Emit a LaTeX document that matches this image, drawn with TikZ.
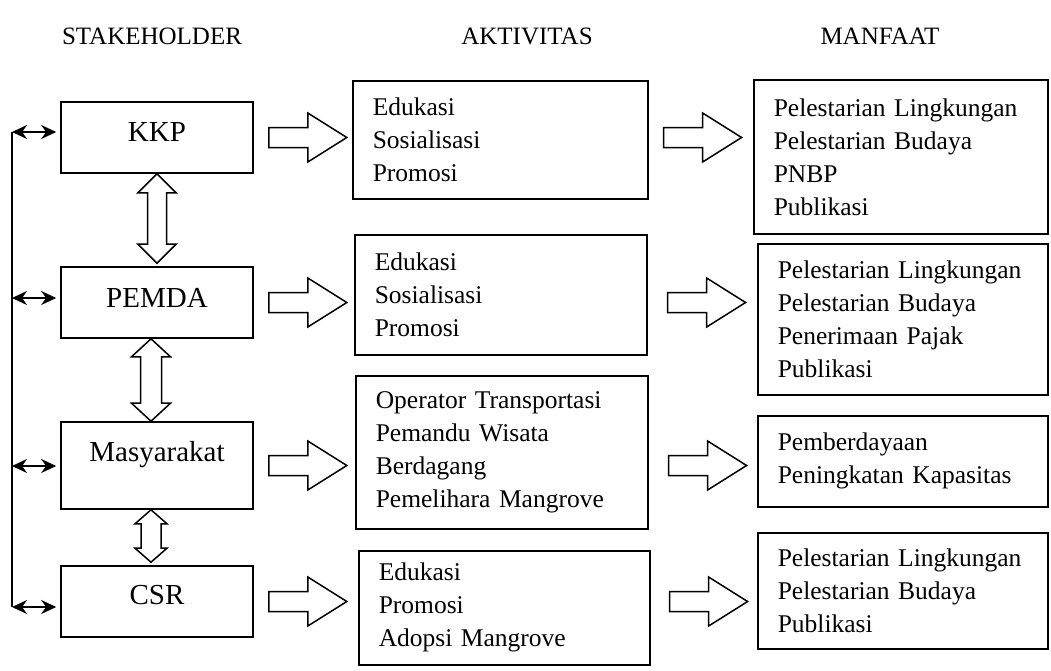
\documentclass[tikz,border=0pt]{standalone}
\usepackage{fontspec}
\setmainfont{Liberation Serif}
\usetikzlibrary{arrows.meta,calc}
\tikzset{>=Stealth}
\tikzset{%
    hd/.style={anchor=base, font=\fontsize{25}{30}\selectfont},
    sh/.style={draw, line width=1.6pt, minimum width=192pt, minimum height=71pt,
        text height=21pt, font=\fontsize{29}{34}\selectfont},
    lst/.style={draw, line width=1.6pt, anchor=north west, align=left,
        inner xsep=20pt, font=\fontsize{25.5}{33}\selectfont},
    blk/.style={draw, line width=1.5pt, line join=miter},
    ln/.style={line width=1.6pt},
    lr/.style={line width=1.6pt, {Stealth[length=15pt,width=14pt]}-{Stealth[length=15pt,width=14pt]}},
    rblock/.pic={\draw[blk] (0,-10) -- (39,-10) -- (39,-24.5) -- (78,0) -- (39,24.5) -- (39,10) -- (0,10) -- cycle;}
}
\newcommand{\dblblock}[5]{%
    \draw[blk] let \p1=(#1), \p2=(#2) in
        (\x1,\y1) -- (\x1+#3,\y1-#5) -- (\x1+#4,\y1-#5) -- (\x1+#4,\y2+#5) -- (\x1+#3,\y2+#5)
        -- (\x1,\y2) -- (\x1-#3,\y2+#5) -- (\x1-#4,\y2+#5) -- (\x1-#4,\y1-#5) -- (\x1-#3,\y1-#5) -- cycle;}

\begin{document}
\begin{tikzpicture}[x=1pt,y=-1pt]
\useasboundingbox (0,0) rectangle (1051,670);
% judul kolom
\node[hd] (hsh) at (152,44) {STAKEHOLDER};
\node[hd] (hak) at (527,44) {AKTIVITAS};
\node[hd] (hma) at (880,44) {MANFAAT};
% stakeholder
\node[sh, text depth=13pt] (kkp) at (157,137.5) {KKP};
\node[sh, text depth=11pt] (pemda) at (157,302.5) {PEMDA};
\node[sh, minimum height=87pt, text depth=29pt] (masy) at (157,465.5) {Masyarakat};
\node[sh, text depth=16pt] (csr) at (157,601.5) {CSR};
% aktivitas
\node[lst, text width=255pt, minimum height=118pt] (akt1) at (352,80) {Edukasi\\Sosialisasi\\Promosi};
\node[lst, text width=252pt, minimum height=120pt] (akt2) at (354,234) {Edukasi\\Sosialisasi\\Promosi};
\node[lst, text width=252pt, minimum height=153pt] (akt3) at (355,375) {Operator Transportasi\\Pemandu Wisata\\Berdagang\\Pemelihara Mangrove};
\node[lst, text width=251pt, minimum height=114pt] (akt4) at (358,550) {Edukasi\\Promosi\\Adopsi Mangrove};
% manfaat
\node[lst, text width=254pt, minimum height=154pt] (man1) at (753,79) {Pelestarian Lingkungan\\Pelestarian Budaya\\PNBP\\Publikasi};
\node[lst, text width=250pt, minimum height=151pt] (man2) at (757,243) {Pelestarian Lingkungan\\Pelestarian Budaya\\Penerimaan Pajak\\Publikasi};
\node[lst, text width=250pt, minimum height=91pt] (man3) at (757,415) {Pemberdayaan\\Peningkatan Kapasitas};
\node[lst, text width=250pt, minimum height=116pt] (man4) at (757,532) {Pelestarian Lingkungan\\Pelestarian Budaya\\Publikasi};
% garis kiri
\coordinate (b1) at (12,132);
\coordinate (b2) at (12,298);
\coordinate (b3) at (12,466);
\coordinate (b4) at (12,607);
\draw[ln] (b1) -- (b4);
\foreach \b/\n in {b1/kkp,b2/pemda,b3/masy,b4/csr}
    \draw[lr] (\b) -- ($(\b -| \n.west)+(-4,0)$);
% panah dua arah
\dblblock{kkp.south}{[yshift=3pt]pemda.north}{19pt}{9.5pt}{19pt}
\dblblock{[xshift=-6pt]pemda.south}{[xshift=-6pt]masy.north}{19.5pt}{10.5pt}{18pt}
\dblblock{[xshift=-6pt]masy.south}{[xshift=-6pt,yshift=3pt]csr.north}{16pt}{10pt}{14pt}
% panah blok
\foreach \n in {kkp,pemda,masy,csr}
    \pic at ($(\n.east)+(15,0)$) {rblock};
\pic at ($(akt1.east |- kkp.east)+(15,0)$) {rblock};
\pic at ($(akt2.east |- pemda.east)+(20,0)$) {rblock};
\pic at ($(akt3.east |- masy.east)+(20,0)$) {rblock};
\pic at ($(akt4.east |- csr.east)+(19,0)$) {rblock};
\end{tikzpicture}
\end{document}
